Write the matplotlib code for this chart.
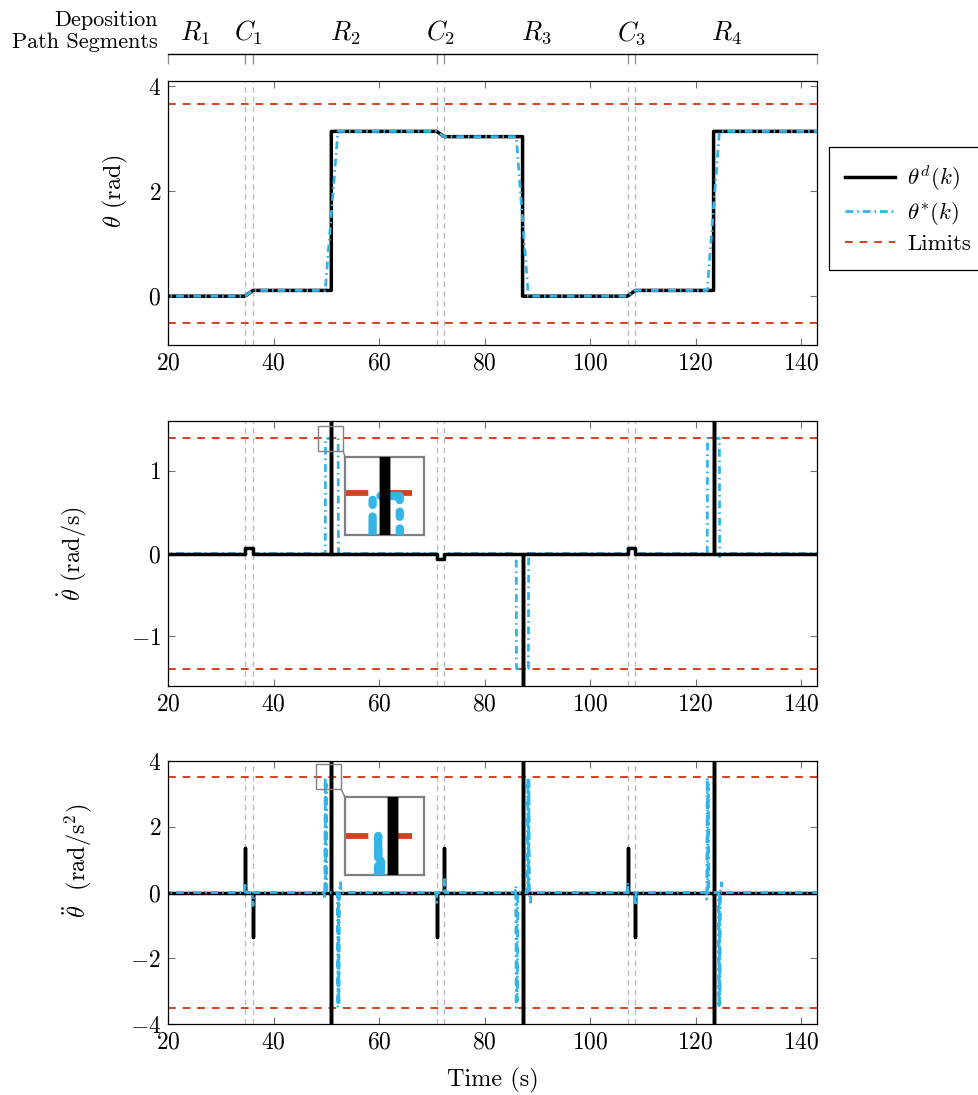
import matplotlib
matplotlib.use("Agg")
import matplotlib.pyplot as plt
from matplotlib.patches import Rectangle, ConnectionPatch

plt.rcParams.update({
    "font.family": "serif",
    "font.serif": ["cmr10"],
    "mathtext.fontset": "cm",
    "axes.formatter.use_mathtext": True,
    "axes.unicode_minus": True,
})

# ---------------------------------------------------------------------------
# Data
# ---------------------------------------------------------------------------
XMIN, XMAX = 20, 143

seg_bounds = [20, 34.6, 36.1, 70.9, 72.4, 107.1, 108.6, 143]
seg_labels = [r"$R_1$", r"$C_1$", r"$R_2$", r"$C_2$", r"$R_3$", r"$C_3$", r"$R_4$"]
seg_label_x = [25.1, 35.3, 53.5, 71.6, 89.75, 107.8, 125.8]
corner_lines = [34.6, 36.1, 70.9, 72.4, 107.1, 108.6]

# theta (rad)
t_th_d = [15, 34.6, 36.1, 50.95, 50.95, 70.9, 72.4, 87.2, 87.2, 107.1, 108.6, 123.4, 123.4, 145]
th_d = [0, 0, 0.11, 0.11, 3.14, 3.14, 3.04, 3.04, 0, 0, 0.11, 0.11, 3.14, 3.14]
t_th_s = [15, 34.6, 36.1, 49.8, 52.2, 70.9, 72.4, 86.0, 88.3, 107.1, 108.6, 122.2, 124.5, 145]
th_s = [0, 0, 0.11, 0.11, 3.14, 3.14, 3.04, 3.04, 0, 0, 0.11, 0.11, 3.14, 3.14]
th_lim = [-0.52, 3.66]

# theta dot (rad/s)
t_dth_d = [15, 34.6, 34.6, 36.1, 36.1, 50.95, 50.95, 50.95, 70.9, 70.9, 72.4, 72.4,
           87.2, 87.2, 87.2, 107.1, 107.1, 108.6, 108.6, 123.4, 123.4, 123.4, 145]
dth_d = [0, 0, 0.065, 0.065, 0, 0, 5, 0, 0, -0.065, -0.065, 0,
         0, -5, 0, 0, 0.065, 0.065, 0, 0, 5, 0, 0]
t_dth_s = [15, 34.6, 34.65, 36.05, 36.1, 49.8, 49.85, 52.25, 52.3, 52.4,
           70.9, 70.95, 72.35, 72.4, 86.0, 86.05, 88.3, 88.35, 88.45,
           107.1, 107.15, 108.55, 108.6, 122.2, 122.25, 124.5, 124.55, 124.65, 145]
dth_s = [0, 0, 0.065, 0.065, 0, 0, 1.39, 1.39, -0.04, 0,
         0, -0.065, -0.065, 0, 0, -1.39, -1.39, 0.04, 0,
         0, 0.065, 0.065, 0, 0, 1.39, 1.39, -0.04, 0, 0]
dth_lim = [-1.4, 1.4]

# theta ddot (rad/s^2)
t_ddth_d = [15, 34.6, 34.6, 34.6, 36.1, 36.1, 36.1, 50.95, 50.95, 50.95, 50.95,
            70.9, 70.9, 70.9, 72.4, 72.4, 72.4, 87.2, 87.2, 87.2, 87.2,
            107.1, 107.1, 107.1, 108.6, 108.6, 108.6, 123.4, 123.4, 123.4, 123.4, 145]
ddth_d = [0, 0, 1.35, 0, 0, -1.35, 0, 0, 9, -9, 0,
          0, -1.35, 0, 0, 1.35, 0, 0, -9, 9, 0,
          0, 1.35, 0, 0, -1.35, 0, 0, 9, -9, 0, 0]
t_ddth_s = [15, 34.5, 34.6, 34.7, 36.0, 36.1, 36.2,
            49.6, 49.7, 49.8, 49.9, 50.0, 50.1,
            52.1, 52.2, 52.3, 52.4, 52.5, 52.7, 52.8,
            70.8, 70.9, 71.0, 72.3, 72.4, 72.5,
            85.8, 85.9, 86.0, 86.1, 86.2, 86.3,
            88.1, 88.2, 88.3, 88.4, 88.5, 88.7, 88.8,
            107.0, 107.1, 107.2, 108.5, 108.6, 108.7,
            122.0, 122.1, 122.2, 122.3, 122.4, 122.5,
            124.3, 124.4, 124.5, 124.6, 124.7, 124.9, 125.0, 145]
ddth_s = [0, 0, 0.3, 0, 0, -0.4, 0,
          0, -0.2, 3.5, 0.1, 3.3, 0,
          0, -3.5, 0, -3.4, 0, 0.3, 0,
          0, -0.3, 0, 0, 0.4, 0,
          0, 0.2, -3.5, -0.1, -3.3, 0,
          0, 3.5, 0, 3.4, 0, -0.3, 0,
          0, 0.3, 0, 0, -0.4, 0,
          0, -0.2, 3.5, 0.1, 3.3, 0,
          0, -3.5, 0, -3.4, 0, 0.3, 0, 0]
ddth_lim = [-3.5, 3.5]

BLACK = "black"
BLUE = "#33B5E8"
RED = "#D5401F"
GREY = "#BDBDBD"
BLUE_LS = (0, (2.8, 1.4, 0.6, 1.4))
RED_LS = (0, (4, 3.5))

W_PX, H_PX = 979, 1095


def fig_rect(x0, y0, x1, y1):
    return [x0 / W_PX, 1 - y1 / H_PX, (x1 - x0) / W_PX, (y1 - y0) / H_PX]


fig = plt.figure(figsize=(W_PX / 100, H_PX / 100), dpi=100)

ax1 = fig.add_axes(fig_rect(168, 81, 817, 345))
ax2 = fig.add_axes(fig_rect(168, 421, 817, 686))
ax3 = fig.add_axes(fig_rect(168, 761, 817, 1024))


def style(ax, ylim, yticks):
    ax.set_xlim(XMIN, XMAX)
    ax.set_ylim(*ylim)
    ax.set_xticks([20, 40, 60, 80, 100, 120, 140])
    ax.set_yticks(yticks)
    ax.tick_params(direction="in", top=True, right=True, length=5, width=0.8,
                   color="0.45", labelsize=17, pad=5)
    for s in ax.spines.values():
        s.set_linewidth(0.9)
    for x in corner_lines:
        ax.axvline(x, color=GREY, lw=1.0, ls=(0, (4, 3)), zorder=1)


def draw(ax, td, vd, ts, vs, lim, blue_on_top=True, lw_k=2.5, lw_b=2.0, lw_r=1.4):
    zk, zb = (3, 4) if blue_on_top else (4, 3)
    hk, = ax.plot(td, vd, color=BLACK, lw=lw_k, zorder=zk, label=r"$\theta^d(k)$")
    hb, = ax.plot(ts, vs, color=BLUE, lw=lw_b, ls=BLUE_LS, zorder=zb, label=r"$\theta^{*}(k)$")
    hr = None
    for i, y in enumerate(lim):
        h = ax.axhline(y, color=RED, lw=lw_r, ls=RED_LS, zorder=2,
                       label="Limits" if i == 0 else None)
        hr = hr or h
    return hk, hb, hr


style(ax1, (-0.93, 4.1), [0, 2, 4])
handles = draw(ax1, t_th_d, th_d, t_th_s, th_s, th_lim)
ax1.set_ylabel(r"$\theta$ (rad)", fontsize=17.5)
ax1.yaxis.set_label_coords(-0.059, 0.58)

style(ax2, (-1.6, 1.6), [-1, 0, 1])
draw(ax2, t_dth_d, dth_d, t_dth_s, dth_s, dth_lim, blue_on_top=False)
ax2.set_ylabel(r"$\dot{\theta}$ (rad/s)", fontsize=17.5)
ax2.yaxis.set_label_coords(-0.12, 0.5)

style(ax3, (-4, 4), [-4, -2, 0, 2, 4])
draw(ax3, t_ddth_d, ddth_d, t_ddth_s, ddth_s, ddth_lim)
ax3.set_ylabel(r"$\ddot{\theta}$  (rad/s$^2$)", fontsize=17.5)
ax3.yaxis.set_label_coords(-0.112, 0.62)
ax3.set_xlabel("Time (s)", fontsize=17.5, labelpad=11)

# ---------------------------------------------------------------------------
# Zoom insets
# ---------------------------------------------------------------------------
def inset(ax, src, rect_px, xlim, ylim, td, vd, ts, vs, lim, blue_on_top):
    x0, y0, w, h = src
    ax.add_patch(Rectangle((x0, y0), w, h, fill=False, edgecolor="0.5", lw=1.0, zorder=6))
    axi = fig.add_axes(fig_rect(*rect_px))
    axi.set_xlim(*xlim)
    axi.set_ylim(*ylim)
    axi.set_xticks([])
    axi.set_yticks([])
    for s in axi.spines.values():
        s.set_edgecolor("0.5")
        s.set_linewidth(1.6)
    zk, zb = (3, 4) if blue_on_top else (4, 3)
    axi.plot(td, vd, color=BLACK, lw=7.5, zorder=zk)
    axi.plot(ts, vs, color=BLUE, lw=6, ls=BLUE_LS, zorder=zb,
             dash_capstyle="round", solid_capstyle="round")
    for y in lim:
        axi.axhline(y, color=RED, lw=4.2, ls=RED_LS, zorder=2)
    con = ConnectionPatch(xyA=(x0 + w, y0), coordsA=ax.transData,
                          xyB=(0, 1), coordsB=axi.transAxes, color="0.5", lw=1.0)
    fig.add_artist(con)


inset(ax2, (48.5, 1.24, 4.7, 0.30), (345, 457, 424, 535), (47.4, 54.4), (1.24, 1.54),
      t_dth_d, dth_d, t_dth_s, dth_s, dth_lim, blue_on_top=False)
inset(ax3, (48.1, 3.14, 4.7, 0.76), (345, 797, 424, 875), (47.26, 53.31), (3.14, 3.86),
      t_ddth_d, ddth_d, t_ddth_s, ddth_s, ddth_lim, blue_on_top=True)

# ---------------------------------------------------------------------------
# Segment header
# ---------------------------------------------------------------------------
axh = fig.add_axes(fig_rect(168, 54, 817, 64))
axh.set_xlim(XMIN, XMAX)
axh.set_ylim(0, 1)
axh.set_xticks([])
axh.set_yticks([])
axh.patch.set_visible(False)
for side in ["left", "right", "bottom"]:
    axh.spines[side].set_visible(False)
axh.spines["top"].set_linewidth(1.0)
axh.vlines(seg_bounds, 0, 1, color="0.55", lw=0.9, clip_on=False)
for x, lab in zip(seg_label_x, seg_labels):
    axh.text(x, 3.1, lab, ha="center", va="center", fontsize=19, clip_on=False)
fig.text(158 / W_PX, 1 - 31 / H_PX, "Deposition\nPath Segments", ha="right", va="center",
         multialignment="right", fontsize=16, linespacing=1.15)

# ---------------------------------------------------------------------------
# Legend
# ---------------------------------------------------------------------------
leg = fig.legend(handles=list(handles), loc="upper left",
                 bbox_to_anchor=(829 / W_PX, 1 - 147 / H_PX), fontsize=16.5,
                 frameon=True, fancybox=False, edgecolor="black", framealpha=1,
                 handlelength=2.2, borderpad=0.7, labelspacing=0.3,
                 handletextpad=0.5, borderaxespad=0)
leg.get_frame().set_linewidth(0.9)

fig.savefig("out.png", dpi=100)
